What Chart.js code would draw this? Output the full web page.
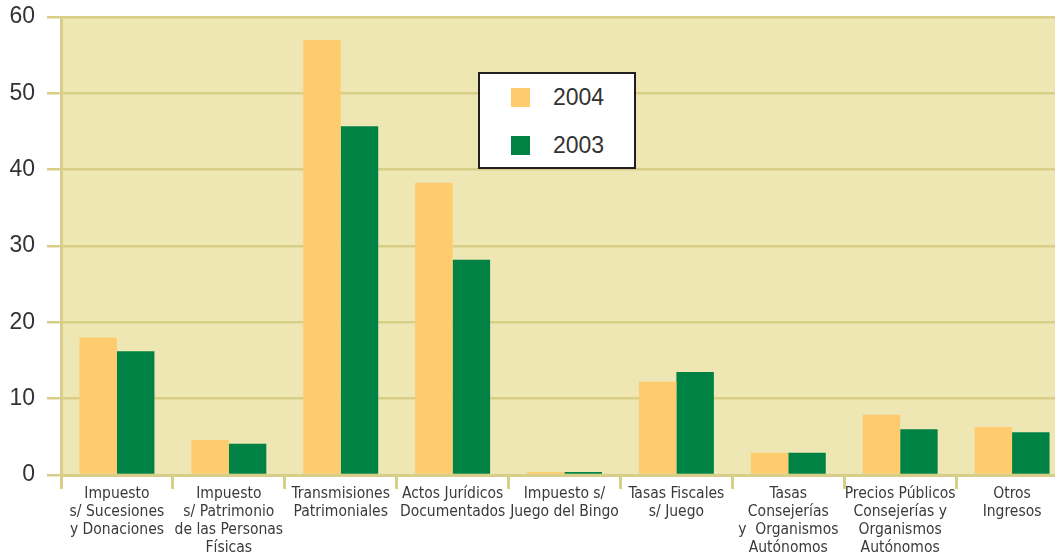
<!DOCTYPE html>
<html>
<head>
<meta charset="utf-8">
<script src="https://cdn.jsdelivr.net/npm/chart.js@4/dist/chart.umd.min.js"></script>
<style>
  html, body { margin: 0; padding: 0; background: #ffffff; overflow: hidden; }
  #wrap { position: relative; width: 1055px; height: 553px; overflow: hidden; }
  #c { position: absolute; left: 0; top: 0; }
  #legend { position: absolute; left: 478px; top: 72px; width: 154px; height: 93px;
    background: #fff; border: 2.5px solid #231f20; font-family: "Liberation Sans", Arial, sans-serif; }
  .li { position: absolute; left: 31px; height: 20px; }
  .sw { position: absolute; left: 0; top: 0; width: 19px; height: 19px; }
  .lt { position: absolute; left: 42px; top: -4px; font-size: 23px; color: #333; white-space: nowrap; }
</style>
</head>
<body>
<div id="wrap">
  <canvas id="c" width="1070" height="553"></canvas>
  <div id="legend"></div>
</div>
<script>
const categories = [
  ["Impuesto", "s/ Sucesiones", "y Donaciones"],
  ["Impuesto", "s/ Patrimonio", "de las Personas", "Físicas"],
  ["Transmisiones", "Patrimoniales"],
  ["Actos Jurídicos", "Documentados"],
  ["Impuesto s/", "Juego del Bingo"],
  ["Tasas Fiscales", "s/ Juego"],
  ["Tasas", "Consejerías", "y  Organismos", "Autónomos"],
  ["Precios Públicos", "Consejerías y", "Organismos", "Autónomos"],
  ["Otros", "Ingresos"]
];
const seriesNames = ["2004", "2003"];
const values2004 = [18.0, 4.6, 57.0, 38.3, 0.4, 12.2, 2.9, 7.9, 6.3];
const values2003 = [16.2, 4.1, 45.7, 28.2, 0.4, 13.5, 2.9, 6.0, 5.6];
const yTicks = [0, 10, 20, 30, 40, 50, 60];

const colors = ["#fecb6e", "#008244"];
const gridColor = "#d8ce88";
const plotBg = "#eee7b4";

const bgPlugin = {
  id: "plotBg",
  beforeDraw(chart) {
    const { ctx, chartArea: a } = chart;
    ctx.save();
    ctx.fillStyle = plotBg;
    ctx.fillRect(a.left, a.top, a.right - a.left, a.bottom - a.top);
    ctx.restore();
  }
};

const chart = new Chart(document.getElementById("c"), {
  type: "bar",
  data: {
    labels: categories,
    datasets: [
      { label: seriesNames[0], data: values2004, backgroundColor: colors[0], borderWidth: 0 },
      { label: seriesNames[1], data: values2003, backgroundColor: colors[1], borderWidth: 0 }
    ]
  },
  options: {
    responsive: false,
    devicePixelRatio: 1,
    animation: false,
    layout: { padding: { top: 17, right: 2, left: 0, bottom: 0 } },
    datasets: { bar: { barPercentage: 1.0, categoryPercentage: 0.67 } },
    plugins: { legend: { display: false }, tooltip: { enabled: false } },
    scales: {
      x: {
        offset: true,
        grid: { offset: true, drawOnChartArea: false, drawTicks: true, tickLength: 14, color: gridColor, lineWidth: 3 },
        border: { display: true, color: gridColor, width: 3 },
        ticks: {
          maxRotation: 0, minRotation: 0, autoSkip: false, padding: -4,
          color: "#3a3a3a",
          font: { family: "'Liberation Sans Narrow', 'DejaVu Sans Condensed', 'Liberation Sans', sans-serif", size: 15.5, lineHeight: "18px" }
        },
        afterFit(s) { s.height = 78; s.paddingLeft = 0; s.paddingRight = 0; }
      },
      y: {
        min: 0, max: 60,
        afterBuildTicks(s) { s.ticks = yTicks.map(v => ({ value: v })); },
        grid: { color: gridColor, lineWidth: 2.5, drawTicks: true, tickLength: 14 },
        border: { display: true, color: gridColor, width: 3 },
        ticks: {
          padding: 12, color: "#333",
          font: { family: "'Liberation Sans', Arial, sans-serif", size: 23 }
        },
        afterFit(s) { s.width = 61; s.paddingTop = 0; s.paddingBottom = 0; }
      }
    }
  },
  plugins: [bgPlugin]
});

// HTML legend built from the datasets
const lg = document.getElementById("legend");
chart.data.datasets.forEach((ds, i) => {
  const it = document.createElement("div");
  it.className = "li";
  it.style.top = (14 + i * 48) + "px";
  it.innerHTML = '<div class="sw" style="background:' + ds.backgroundColor + '"></div><div class="lt">' + ds.label + '</div>';
  lg.appendChild(it);
});
</script>
</body>
</html>
